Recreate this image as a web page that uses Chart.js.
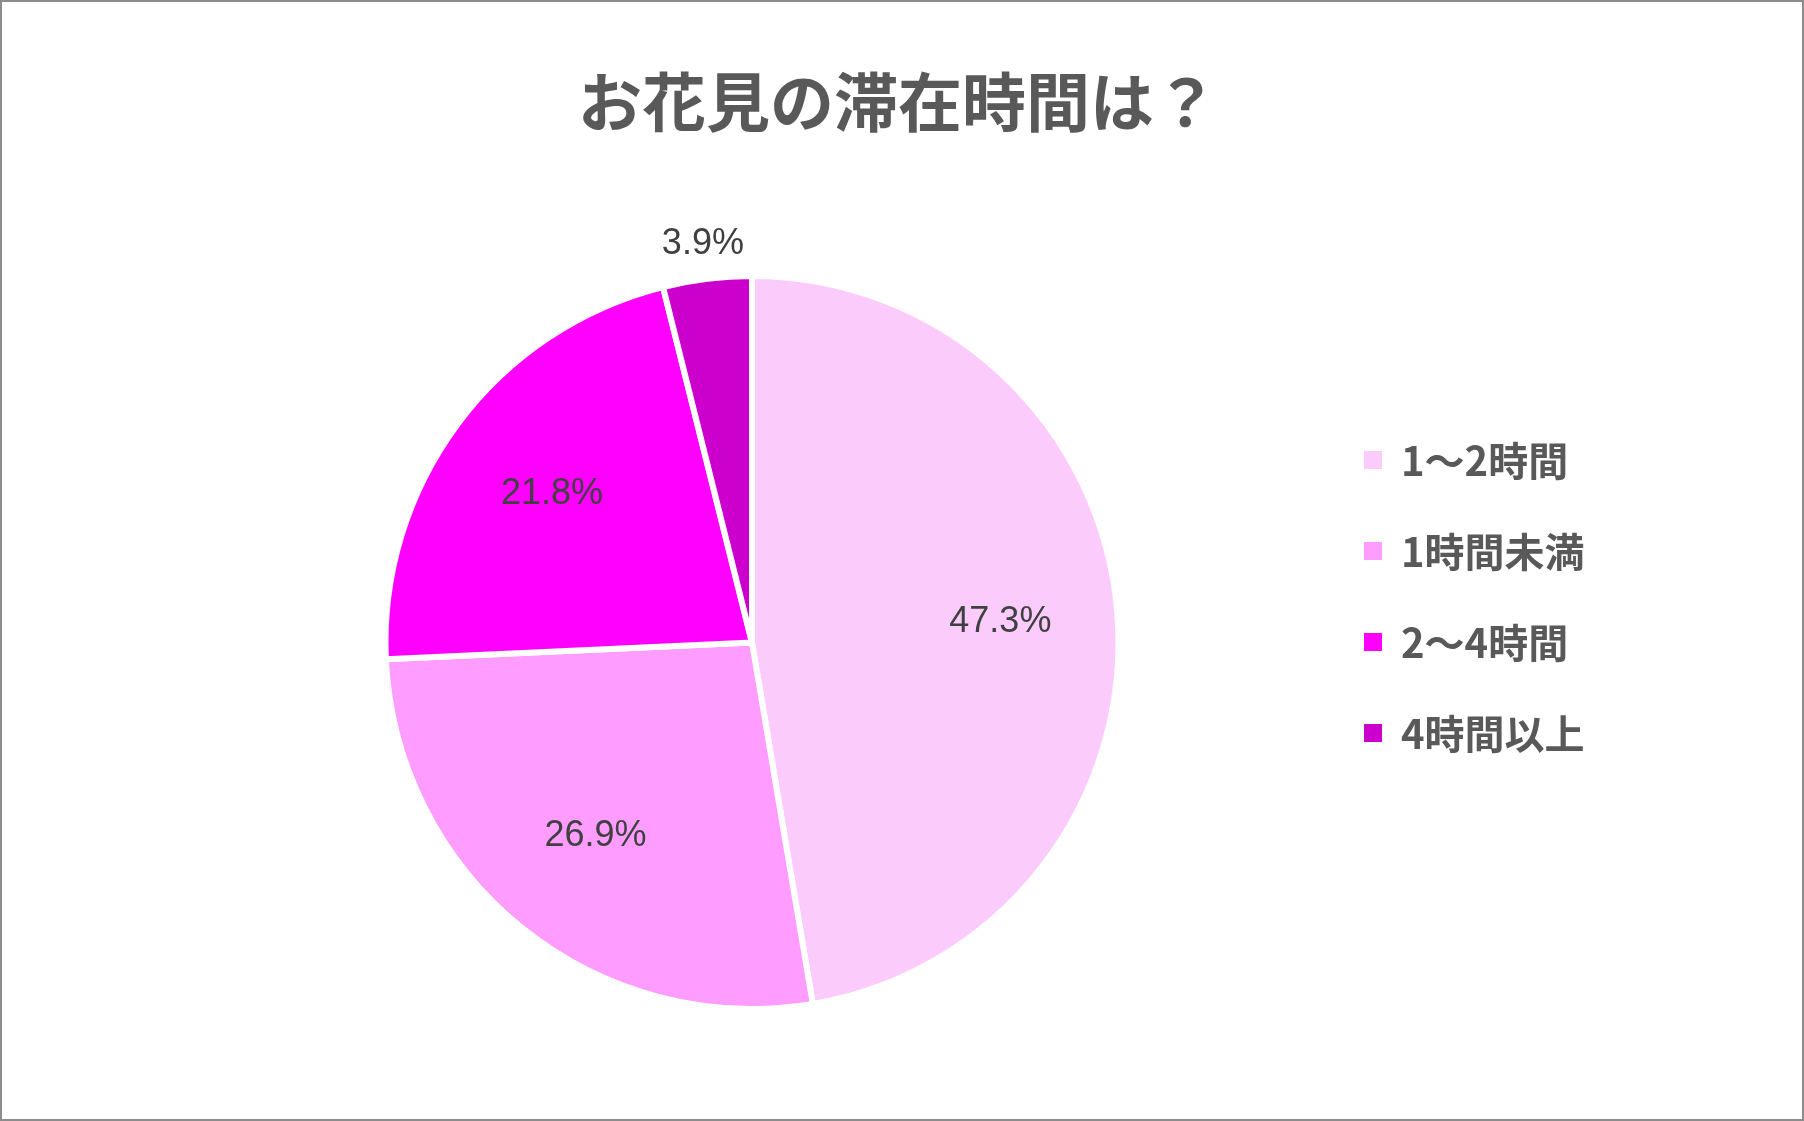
<html lang="ja">
  <head>
    <meta charset="UTF-8" />
    <script src="https://cdn.jsdelivr.net/npm/chart.js"></script>
    <title>お花見の滞在時間は？</title>
    <style>
      body { margin: 0; background: #fff; }
      canvas { display: block; }
    </style>
  </head>
  <body>
    <canvas id="pieChart" width="1804" height="1121"></canvas>
    <script>
        // chart data
        const titleText = 'お花見の滞在時間は？';
        const categories = ['1～2時間', '1時間未満', '2～4時間', '4時間以上'];
        const shares = [47.3, 26.9, 21.8, 3.9];
        const sliceColors = ['#FBCCFB', '#FF9CFF', '#FF00FF', '#CC00CC'];

        const textGrey = '#595959';
        const cjkFont = '"Noto Sans CJK JP", "Noto Sans", sans-serif';

        // percentage labels on / next to each slice
        const sliceLabels = {
            id: 'sliceLabels',
            afterDatasetsDraw(chart) {
                const ctx = chart.ctx;
                const arcs = chart.getDatasetMeta(0).data;
                ctx.save();
                ctx.font = '36px "Liberation Sans", Arial, sans-serif';
                ctx.fillStyle = '#404040';
                ctx.textAlign = 'center';
                ctx.textBaseline = 'middle';
                arcs.forEach((arc, i) => {
                    const p = arc.getProps(['x', 'y', 'startAngle', 'endAngle', 'outerRadius'], true);
                    const mid = (p.startAngle + p.endAngle) / 2;
                    const dist = shares[i] < 5 ? p.outerRadius + 35 : p.outerRadius * 0.68;
                    ctx.fillText(shares[i].toFixed(1) + '%', p.x + Math.cos(mid) * dist, p.y + Math.sin(mid) * dist);
                });
                ctx.restore();
            }
        };

        // title, legend on the right, outer frame
        const frameAndLegend = {
            id: 'frameAndLegend',
            afterDraw(chart) {
                const ctx = chart.ctx;
                ctx.save();
                ctx.fillStyle = textGrey;
                ctx.textAlign = 'center';
                ctx.textBaseline = 'middle';
                ctx.font = 'bold 64px ' + cjkFont;
                ctx.fillText(titleText, 898, 102);

                ctx.textAlign = 'left';
                ctx.font = 'bold 40px ' + cjkFont;
                chart.data.labels.forEach((label, i) => {
                    const y = 460 + i * 91;
                    ctx.fillStyle = chart.data.datasets[0].backgroundColor[i];
                    ctx.fillRect(1364, y - 9, 18, 18);
                    ctx.fillStyle = textGrey;
                    ctx.fillText(label, 1401, y + 1);
                });
                ctx.strokeStyle = '#8c8c8c';
                ctx.lineWidth = 2;
                ctx.strokeRect(1, 1, chart.width - 2, chart.height - 2);
                ctx.restore();
            }
        };

        const pieChart = new Chart(document.getElementById('pieChart'), {
            type: 'pie',
            data: {
                labels: categories,
                datasets: [{
                    data: shares,
                    backgroundColor: sliceColors,
                    borderColor: '#ffffff',
                    borderWidth: 6
                }]
            },
            options: {
                responsive: false,
                devicePixelRatio: 1,
                animation: false,
                layout: { padding: { left: 20, right: 320, top: 273, bottom: 109 } },
                plugins: {
                    legend: { display: false },
                    tooltip: { enabled: false },
                    title: { display: false }
                }
            },
            plugins: [sliceLabels, frameAndLegend]
        });
    </script>
  </body>
</html>
